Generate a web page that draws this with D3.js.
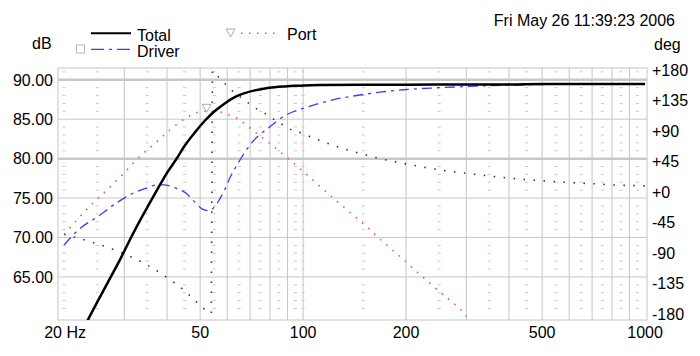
<!DOCTYPE html>
<html><head><meta charset="utf-8">
<script src="https://cdn.jsdelivr.net/npm/d3@7"></script>
<style>
html,body{margin:0;padding:0;background:#fff;}
svg{display:block;font-family:"Liberation Sans",Arial,sans-serif;}
</style></head>
<body>
<svg id="chart" width="700" height="356"></svg>
<script>
// ---- data ----
const totalFreq = [22.5,23.75,25,27,29,31.4,33,35,37.6,40,42.6,45,48.2,51.6,55.1,59,63.1,67.5,72.2,77.3,82.6,88.4,94.6,101,113,150,200,300,400,500,1000];
const totalDb   = [58.0,59.96,61.8,64.5,67.0,70.0,71.8,73.8,76.2,78.2,79.95,81.6,83.3,84.8,86.0,87.0,87.8,88.3,88.65,88.9,89.05,89.15,89.23,89.28,89.33,89.38,89.38,89.4,89.4,89.45,89.45];

const driverFreq = [20,22.2,25.1,28.4,32.1,35,37.6,40.2,42.5,45.5,48.1,50.8,52.9,55,56.9,58.9,61,64.5,70.6,79,89.4,102.3,122.4,148.2,170,196,245,307,345,420,500,1000];
const driverDb   = [69.05,71.1,72.65,74.35,75.7,76.3,76.7,76.6,76.25,75.6,74.55,73.6,73.4,73.85,74.8,76.0,77.5,79.4,81.97,83.87,85.56,86.5,87.46,88.1,88.45,88.73,88.98,89.15,89.24,89.33,89.4,89.45];

const portFreq = [20,22,24.2,26.8,29.7,32.8,36.6,40.7,45.6,51.2,55.8,60.1,64.1,72.2,80.8,90.4,100.5,111.9,124.7,139.1,155,172.3,192,213.4,237.7,264.4,294,310];
const portDb   = [70.4,72.4,74.3,76.1,78.0,80.0,81.8,83.6,85.2,86.0,86.0,85.6,85.1,83.4,81.75,80.0,78.3,76.5,74.7,72.95,71.2,69.35,67.6,65.8,64.0,62.3,60.5,59.2];

const phaseFreq = [20,23,26.2,29.8,34.1,38.7,43.6,48.2,50.6,52.9,53.9,54.3,55.5,58.3,61.3,68.3,72.7,77.3,82.6,87.4,92.5,99.6,106.5,114.4,129.5,148.9,170.8,196.2,226.1,259.8,299.3,345.6,398,460.9,529.7,610.3,706.1,813.3,941.2,1000];
const phaseDeg  = [-62.4,-70.8,-79.7,-90.4,-104.3,-121.0,-139.7,-159.3,-170.7,-175.6,-179,179,174.1,162.7,151.5,133.2,123.5,116.1,106.2,98.9,91.5,86.6,80.1,74.2,64.5,56.1,48.2,42.3,36.4,31.4,27.6,24.0,20.6,17.7,15.8,13.7,12.2,10.3,9.3,9.0];

const dbTicks   = [90,85,80,75,70,65];
const dbTickLabels = ["90.00","85.00","80.00","75.00","70.00","65.00"];
const degTicks  = [180,135,90,45,0,-45,-90,-135,-180];
const degTickLabels = ["+180","+135","+90","+45","+0","-45","-90","-135","-180"];
const freqTicks = [20,50,100,200,500,1000];
const freqTickLabels = ["20 Hz","50","100","200","500","1000"];
const majorFreqGrid = [30,40,50,60,70,80,90,100,200,300,400,500,600,700,800,900];
const minorFreqGrid = [20,25,35,45,55,65,75,85,95,100,150,250,350,450,550,650,750,850,950];

const legendNames = ["Total","Driver","Port"];
const titleText = "Fri May 26 11:39:23 2006";

// ---- layout ----
const L = 58, R = 647, T = 68, B = 320;
const svg = d3.select("#chart");
const x = d3.scaleLog().domain([19.2, 1013]).range([L, R]);
const y = d3.scaleLinear().domain([59.54, 91.49]).range([B, T]);
const yd = d3.scaleLinear().domain([-180, 180]).range([314, 70]);

// grid
const g = svg.append("g");
g.selectAll(".vmaj").data(majorFreqGrid).join("line")
  .attr("x1", d => x(d)).attr("x2", d => x(d)).attr("y1", T).attr("y2", B)
  .attr("stroke", "#c4c4c4").attr("stroke-width", 1);
g.selectAll(".hmaj").data(dbTicks).join("line")
  .attr("x1", L).attr("x2", R).attr("y1", d => y(d)).attr("y2", d => y(d))
  .attr("stroke", "#c8c8c8").attr("stroke-width", d => (d === 90 || d === 80) ? 2.5 : 1);
// minor dash ticks
const minorDb = d3.range(60, 92).filter(v => v % 5 !== 0);
const pairs = [];
minorFreqGrid.forEach(f => minorDb.forEach(v => pairs.push([f, v])));
g.selectAll(".mtick").data(pairs).join("line")
  .attr("x1", d => x(d[0]) - 1.5).attr("x2", d => x(d[0]) + 1.5)
  .attr("y1", d => y(d[1])).attr("y2", d => y(d[1]))
  .attr("stroke", "#c8c8c8").attr("stroke-width", 1);
// frame
g.append("rect").attr("x", L).attr("y", T).attr("width", R - L).attr("height", B - T)
  .attr("fill", "none").attr("stroke", "#c4c4c4").attr("stroke-width", 1);

// clip
svg.append("defs").append("clipPath").attr("id", "clip")
  .append("rect").attr("x", L).attr("y", T).attr("width", R - L).attr("height", B - T);
const plot = svg.append("g").attr("clip-path", "url(#clip)");

const mk = (fr, vals, ys, curve) => d3.line().x((d, i) => x(fr[i])).y((d, i) => ys(vals[i])).curve(curve)(fr);

// phase (black dotted)
plot.append("path").attr("d", mk(phaseFreq, phaseDeg, yd, d3.curveLinear))
  .attr("fill", "none").attr("stroke", "#333").attr("stroke-width", 1.6)
  .attr("stroke-dasharray", "1.5,8.5");
// port (red dotted)
plot.append("path").attr("d", mk(portFreq, portDb, y, d3.curveMonotoneX))
  .attr("fill", "none").attr("stroke", "#ff4a4a").attr("stroke-width", 1.6)
  .attr("stroke-dasharray", "1.5,6.7");
// driver (blue dash-dot)
plot.append("path").attr("d", mk(driverFreq, driverDb, y, d3.curveMonotoneX))
  .attr("fill", "none").attr("stroke", "#3b3bff").attr("stroke-width", 1.3)
  .attr("stroke-dasharray", "10,5,3,5");
// total (black solid)
plot.append("path").attr("d", mk(totalFreq, totalDb, y, d3.curveMonotoneX))
  .attr("fill", "none").attr("stroke", "#000").attr("stroke-width", 2.5);

// port marker triangle near its peak
const mf = portFreq[9], mv = portDb[9];
const mx = x(mf) + 3, my = y(mv) - 3;
svg.append("path").attr("d", `M${mx-4.5},${my-4} L${mx+4.5},${my-4} L${mx},${my+4} Z`)
  .attr("fill", "none").attr("stroke", "#aaa").attr("stroke-width", 1);

// axis labels
const txt = svg.append("g").attr("font-size", 16).attr("fill", "#000");
txt.selectAll(".yl").data(dbTicks).join("text")
  .attr("x", 53).attr("y", d => y(d) + 5.8).attr("text-anchor", "end")
  .text((d, i) => dbTickLabels[i]);
txt.selectAll(".yr").data(degTicks).join("text")
  .attr("x", 652).attr("y", d => yd(d) + 5.8).attr("text-anchor", "start")
  .text((d, i) => degTickLabels[i]);
txt.selectAll(".xl").data(freqTicks).join("text")
  .attr("x", d => x(d) + (d === 20 ? 1 : 0)).attr("y", 337.5).attr("text-anchor", "middle")
  .text((d, i) => freqTickLabels[i]);
txt.append("text").attr("x", 32).attr("y", 48.8).text("dB");
txt.append("text").attr("x", 654).attr("y", 49.8).text("deg");
txt.append("text").attr("x", 675).attr("y", 25.8).attr("text-anchor", "end").text(titleText);

// legend
const lg = svg.append("g");
lg.append("line").attr("x1", 91).attr("x2", 131).attr("y1", 33.3).attr("y2", 33.3)
  .attr("stroke", "#000").attr("stroke-width", 2);
lg.append("line").attr("x1", 91).attr("x2", 131).attr("y1", 49.3).attr("y2", 49.3)
  .attr("stroke", "#3b3bff").attr("stroke-width", 1.3).attr("stroke-dasharray", "13,5,3,5");
lg.append("rect").attr("x", 76.5).attr("y", 45).attr("width", 8).attr("height", 8)
  .attr("fill", "none").attr("stroke", "#bbb").attr("stroke-width", 1);
lg.append("path").attr("d", "M226,29 L235,29 L230.5,37 Z")
  .attr("fill", "none").attr("stroke", "#aaa").attr("stroke-width", 1);
lg.append("line").attr("x1", 241).attr("x2", 277).attr("y1", 33.3).attr("y2", 33.3)
  .attr("stroke", "#ff4a4a").attr("stroke-width", 1.5).attr("stroke-dasharray", "1.5,6.5");
lg.append("text").attr("x", 137).attr("y", 40.8).attr("font-size", 16).text(legendNames[0]);
lg.append("text").attr("x", 137).attr("y", 56.5).attr("font-size", 16).text(legendNames[1]);
lg.append("text").attr("x", 287).attr("y", 39.8).attr("font-size", 16).text(legendNames[2]);
</script>
</body></html>
